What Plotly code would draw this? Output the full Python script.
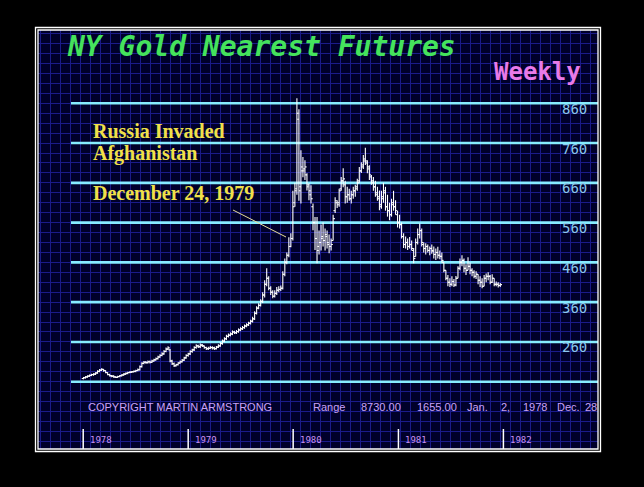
import pandas as pd
import plotly.graph_objects as go

# ---------------- data (weekly NY gold nearest futures, USD/oz) ----------------
start_week = "1978-01-02"

open_1978 = [168,170,172,174,176,178,179,182,186,189,191,188,183,178,175,174,172,171,173,175,177,179,181,183,184,185,186,188,190,198,206,209,208,210,209,212,215,218,222,226,230,236,242,240,212,205,200,203,207,210,214,220]
high_1978 = [172,174,176,178,180,181,184,189,192,194,192,189,184,180,177,176,174,175,177,179,181,183,185,186,187,188,190,193,201,209,212,212,213,213,215,218,221,225,229,234,240,246,249,242,215,208,205,209,213,217,223,229]
low_1978 = [166,168,170,172,174,175,177,180,184,187,185,181,176,173,171,170,169,169,171,173,175,177,179,181,182,183,184,186,188,196,204,205,206,206,207,210,213,216,220,224,228,234,240,209,202,197,198,201,205,208,212,218]
close_1978 = [170,172,174,176,178,179,182,186,189,191,188,183,178,175,174,172,171,173,175,177,179,181,183,184,185,186,188,190,198,206,209,208,210,209,212,215,218,222,226,230,236,242,245,212,205,200,203,207,210,214,220,226]

open_1979 = [226,230,236,240,246,250,248,252,250,246,243,244,246,245,243,247,250,256,262,268,274,277,280,285,283,286,290,293,296,300,303,307,312,318,332,345,352,362,378,405,420,395,385,375,382,390,392,395,430,460,478,500]
high_1979 = [233,239,243,249,254,253,256,255,251,248,248,250,249,248,250,254,260,266,272,278,281,284,289,288,290,294,297,300,304,307,311,316,323,337,350,357,367,385,415,445,425,400,390,390,398,400,402,438,470,485,523,533]
low_1979 = [223,227,233,237,243,245,245,247,243,240,240,242,241,240,241,245,248,253,259,265,271,274,277,280,280,283,287,290,293,297,300,304,309,315,329,342,349,358,372,400,390,378,370,372,378,385,388,392,425,455,473,498]
close_1979 = [230,236,240,246,250,248,252,250,246,243,244,246,245,243,247,250,256,262,268,274,277,280,285,283,286,290,293,296,300,303,307,312,318,332,345,352,362,378,405,420,395,385,375,382,390,392,395,430,460,478,500,520]

open_1980 = [520,610,645,820,650,690,695,680,655,630,600,560,520,500,510,525,515,525,505,500,515,590,610,610,645,665,655,625,630,620,630,640,650,665,690,705,715,710,695,675,660,650,630,620,605,625,635,600,590,580,605,600]
high_1980 = [640,660,873,845,742,725,717,684,659,654,608,574,574,540,555,560,545,540,530,520,580,624,616,645,675,697,665,650,645,640,650,655,670,700,712,730,748,717,704,680,675,665,650,641,640,660,650,630,610,620,640,616]
low_1980 = [515,600,630,615,608,674,667,641,616,608,541,491,458,480,490,500,490,495,483,490,515,584,597,600,640,649,608,610,615,608,620,625,640,660,685,695,705,684,667,655,640,625,615,591,595,610,590,575,566,575,590,580]
close_1980 = [600,640,835,640,700,690,700,650,640,620,560,520,490,510,520,515,530,510,500,505,570,615,605,640,665,670,625,630,620,630,640,645,660,690,700,720,715,700,680,665,650,635,625,600,620,640,600,590,580,610,600,590]

open_1981 = [580,560,555,525,505,510,500,505,490,475,510,530,540,505,495,500,490,495,488,480,485,478,475,460,440,420,410,405,412,403,420,445,460,465,445,440,450,440,435,425,430,415,410,400,420,425,425,410,420,405,405,402]
high_1981 = [590,580,560,533,525,520,524,515,496,520,545,558,545,510,508,505,500,505,500,495,499,490,485,460,440,428,420,425,418,426,450,470,478,470,455,473,460,445,440,438,430,425,420,428,432,435,428,430,420,412,410,408]
low_1981 = [548,545,520,496,495,491,495,490,458,475,505,520,500,485,480,485,478,482,470,466,470,468,460,435,415,400,398,400,398,400,420,440,450,435,428,440,430,425,420,418,405,398,395,400,410,415,405,408,400,400,397,398]
close_1981 = [560,555,525,505,510,500,505,495,470,510,530,540,510,495,500,490,495,490,480,485,478,475,465,440,420,410,405,412,403,420,445,460,465,445,440,450,440,435,425,430,415,410,400,420,425,425,410,420,405,405,402,404]

level_lines = [860, 760, 660, 560, 460, 360, 260, 160]
level_labels = ["860", "760", "660", "560", "460", "360", "260", ""]
year_ticks = ["1978-01-01", "1979-01-01", "1980-01-01", "1981-01-01", "1982-01-01"]
year_labels = ["1978", "1979", "1980", "1981", "1982"]

opens = open_1978 + open_1979 + open_1980 + open_1981
highs = high_1978 + high_1979 + high_1980 + high_1981
lows = low_1978 + low_1979 + low_1980 + low_1981
closes = close_1978 + close_1979 + close_1980 + close_1981
dates = pd.date_range(start_week, periods=len(closes), freq="7D")

# ---------------- layout geometry (pixels) ----------------
W, H = 644, 487
PL, PR, PT, PB = 38, 598, 30, 449        # plot area edges
X_1978, X_1982 = 83.2, 503.4             # pixel x of year ticks
Y_860, Y_160 = 103.3, 381.7              # pixel y of the 860 / 160 lines

ppd = (X_1982 - X_1978) / (pd.Timestamp("1982-01-01") - pd.Timestamp("1978-01-01")).days
x_left = pd.Timestamp("1978-01-01") - pd.Timedelta(days=(X_1978 - PL) / ppd)
x_right = pd.Timestamp("1982-01-01") + pd.Timedelta(days=(PR - X_1982) / ppd)
x_level_start = pd.Timestamp("1978-01-01") - pd.Timedelta(days=(X_1978 - 71) / ppd)
ppu = (Y_160 - Y_860) / 700.0
y_top = 860 + (Y_860 - PT) / ppu
y_bot = 160 - (PB - Y_160) / ppu
grid_tick0 = pd.Timestamp("1978-01-01") - pd.Timedelta(days=(X_1978 - 40) / ppd)
grid_dtick_ms = 10 / ppd * 86400000
tick_len = pd.Timedelta(days=6)          # open/close tick length (style)


def fx(x):
    return (x - PL) / (PR - PL)


def fy(y):
    return (PB - y) / (PB - PT)


fig = go.Figure()

# horizontal cyan price-level lines (drawn above the grid, below the bars)
for lv in level_lines:
    fig.add_trace(go.Scatter(x=[x_level_start, x_right], y=[lv, lv], mode="lines",
                             line=dict(color="#86ecff", width=2.6), hoverinfo="skip", showlegend=False))

# OHLC bars: vertical high-low line, open tick to the left, close tick to the right
bx, by = [], []
for d, o, h, l, c in zip(dates, opens, highs, lows, closes):
    bx += [d, d, None, d - tick_len, d, None, d, d + tick_len, None]
    by += [l, h, None, o, o, None, c, c, None]
fig.add_trace(go.Scatter(x=bx, y=by, mode="lines", line=dict(color="white", width=1.1),
                         hoverinfo="skip", showlegend=False, connectgaps=False))

shapes = []
# annotation pointer
shapes.append(dict(type="line", xref="paper", yref="paper", x0=fx(233), y0=fy(210), x1=fx(286), y1=fy(237),
                   line=dict(color="#e6dc9a", width=1), layer="above"))
# year tick marks
for d in year_ticks:
    shapes.append(dict(type="line", xref="x", yref="paper", x0=d, x1=d, y0=fy(449), y1=fy(429),
                       line=dict(color="white", width=1.5)))
# double white border
shapes.append(dict(type="rect", xref="paper", yref="paper", x0=fx(35.5), x1=fx(600.5), y0=fy(451.5), y1=fy(27.5),
                   line=dict(color="white", width=1.3)))
shapes.append(dict(type="rect", xref="paper", yref="paper", x0=fx(38), x1=fx(598), y0=fy(449), y1=fy(30),
                   line=dict(color="white", width=1.3)))

ann = []
ann.append(dict(text="NY Gold Nearest Futures", x=fx(65), y=fy(47), xref="paper", yref="paper",
                xanchor="left", yanchor="middle", showarrow=False,
                font=dict(family="DejaVu Sans Mono", size=28, color="#45e35c", weight="bold", style="italic")))
ann.append(dict(text="Weekly", x=fx(583), y=fy(72), xref="paper", yref="paper",
                xanchor="right", yanchor="middle", showarrow=False,
                font=dict(family="DejaVu Sans Mono", size=24, color="#e87ae8", weight="bold")))
for lv, lab in zip(level_lines, level_labels):
    if lab:
        ann.append(dict(text=lab, x=fx(574), y=lv, xref="paper", yref="y", xanchor="center", yanchor="middle",
                        yshift=-5.5, showarrow=False,
                        font=dict(family="DejaVu Sans Mono", size=14, color="#8cc8ee")))
serif = dict(family="Liberation Serif", size=20, color="#f0e04a", weight="bold")
for txt, yy in [("Russia Invaded", 130.5), ("Afghanistan", 153.5), ("December 24, 1979", 192.5)]:
    ann.append(dict(text=txt, x=fx(91), y=fy(yy), xref="paper", yref="paper", xanchor="left", yanchor="middle",
                    showarrow=False, font=serif))
lav = dict(family="Liberation Sans", size=11, color="#c9a2f6")
for txt, xx in [("COPYRIGHT MARTIN ARMSTRONG", 86), ("Range", 311), ("8730.00", 359), ("1655.00", 415),
                ("Jan.", 465), ("2,", 499), ("1978", 521), ("Dec.", 555), ("28", 583)]:
    ann.append(dict(text=txt, x=fx(xx), y=fy(407), xref="paper", yref="paper", xanchor="left", yanchor="middle",
                    showarrow=False, font=lav))
for d, lab in zip(year_ticks, year_labels):
    ann.append(dict(text=lab, x=d, y=fy(440), xref="x", yref="paper", xanchor="left", yanchor="middle",
                    xshift=5, showarrow=False,
                    font=dict(family="DejaVu Sans Mono", size=9, color="#c890ee")))

fig.update_layout(
    width=W, height=H, autosize=False,
    margin=dict(l=PL, r=W - PR, t=PT, b=H - PB, pad=0),
    paper_bgcolor="black", plot_bgcolor="#00002a",
    shapes=shapes, annotations=ann, showlegend=False,
    xaxis=dict(type="date", range=[x_left, x_right], showgrid=True, gridcolor="#1b1b8a", gridwidth=1,
               tick0=grid_tick0, dtick=grid_dtick_ms, showticklabels=False, ticks="", zeroline=False,
               showline=False, fixedrange=True),
    yaxis=dict(range=[y_bot, y_top], showgrid=True, gridcolor="#1b1b8a", gridwidth=1, tick0=860, dtick=25,
               showticklabels=False, ticks="", zeroline=False, showline=False, fixedrange=True),
)

fig.write_html("out.html", config={"displayModeBar": False},
               post_script="document.body.style.margin='0';document.body.style.background='black';")
